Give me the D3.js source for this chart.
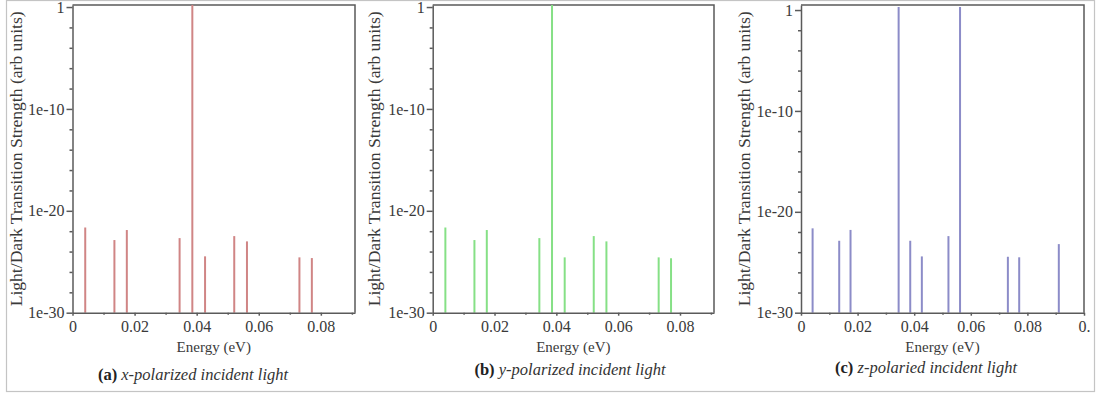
<!DOCTYPE html>
<html>
<head>
<meta charset="utf-8">
<script src="https://cdn.jsdelivr.net/npm/d3@7"></script>
<style>
  body { margin: 0; background: #fff; }
  svg { display: block; }
</style>
</head>
<body>
<svg id="svgId"></svg>
<script>
// energies (eV) of the transitions
var energyX = [0.0041, 0.0135, 0.0175, 0.0345, 0.0386, 0.0427, 0.0521, 0.0562, 0.0731, 0.0771];
var energyY = [0.0041, 0.0135, 0.0175, 0.0345, 0.0386, 0.0427, 0.0521, 0.0562, 0.0731, 0.0771];
var energyZ = [0.0041, 0.0135, 0.0175, 0.0345, 0.0386, 0.0427, 0.0521, 0.0562, 0.0731, 0.0771, 0.0911];

// strengths (arb units), the tall ones run off the top of the plot
var strengthX = [2.3e-22, 1.35e-23, 1.3e-22, 2.1e-23, 2, 3.4e-25, 3.3e-23, 1.0e-23, 2.7e-25, 2.3e-25];
var strengthY = [2.3e-22, 1.35e-23, 1.3e-22, 2.1e-23, 2, 2.7e-25, 3.3e-23, 1.0e-23, 2.7e-25, 2.2e-25];
var strengthZ = [2.3e-22, 1.35e-23, 1.6e-22, 2, 1.35e-23, 3.8e-25, 3.9e-23, 2, 3.5e-25, 3.1e-25, 6.3e-24];

// tick values and labels
var xTicksAB = [0, 0.02, 0.04, 0.06, 0.08];
var xTickLabelsAB = ["0", "0.02", "0.04", "0.06", "0.08"];
var xTicksC = [0, 0.02, 0.04, 0.06, 0.08, 0.1];
var xTickLabelsC = ["0", "0.02", "0.04", "0.06", "0.08", "0."];
var xMinor = [0.01, 0.03, 0.05, 0.07, 0.09];
var yTicks = [1, 1e-10, 1e-20, 1e-30];
var yTickLabels = ["1", "1e-10", "1e-20", "1e-30"];
var yMinor = [1e-2, 1e-4, 1e-6, 1e-8, 1e-12, 1e-14, 1e-16, 1e-18, 1e-22, 1e-24, 1e-26, 1e-28];

var yLabel = "Light/Dark Transition Strength (arb units)";
var xLabel = "Energy (eV)";
var captionTags = ["(a)", "(b)", "(c)"];
var captionTexts = [" x-polarized incident light", " y-polarized incident light", " z-polaried incident light"];

var svgWidth = 1099, svgHeight = 396;
var svg = d3.select("#svgId").attr("width", svgWidth).attr("height", svgHeight);

// outer frame of the figure
svg.append("rect")
    .attr("x", 6.5).attr("y", 0.5)
    .attr("width", 1088).attr("height", 391)
    .attr("fill", "none").attr("stroke", "#c4c4c4").attr("stroke-width", 1.2);

var panels = [
    { left: 72.5, right: 355, xMax: 0.091, yTopExp: 0.2, energy: energyX, strength: strengthX,
      color: "#d08585", xt: xTicksAB, xl: xTickLabelsAB, labelX: 16, capX: 193, capY: 380 },
    { left: 432.7, right: 714, xMax: 0.091, yTopExp: 0.2, energy: energyY, strength: strengthY,
      color: "#86e086", xt: xTicksAB, xl: xTickLabelsAB, labelX: 374, capX: 570, capY: 375 },
    { left: 801, right: 1084, xMax: 0.1, yTopExp: 0.5, energy: energyZ, strength: strengthZ,
      color: "#8c8cc8", xt: xTicksC, xl: xTickLabelsC, labelX: 744, capX: 926, capY: 373 }
];

var plotTop = 5, plotBottom = 312.7;
var axisColor = "#5a5a5a";
var fontFam = "'Liberation Serif', 'DejaVu Serif', serif";

panels.forEach(function (p, k) {
    var g = svg.append("g");

    var x = d3.scaleLinear().domain([0, p.xMax]).range([p.left, p.right]);
    var y = d3.scaleLog().domain([1e-30, Math.pow(10, p.yTopExp)]).range([plotBottom, plotTop]).clamp(true);

    // top and right frame lines
    g.append("path")
        .attr("d", "M" + p.left + "," + plotTop + "H" + p.right + "V" + plotBottom)
        .attr("fill", "none").attr("stroke", axisColor).attr("stroke-width", 1.5);

    //画竖线
    g.selectAll(".spike")
        .data(p.energy)
        .enter().append("line")
        .attr("class", "spike")
        .attr("x1", function (d) { return x(d); })
        .attr("x2", function (d) { return x(d); })
        .attr("y1", y(1e-30))
        .attr("y2", function (d, i) { return y(p.strength[i]); })
        .attr("stroke", p.color)
        .attr("stroke-width", 2);

    // minor ticks
    g.append("g")
        .attr("transform", "translate(0," + plotBottom + ")")
        .call(d3.axisBottom(x).tickValues(xMinor).tickSize(2).tickFormat(""))
        .call(function (a) { a.select(".domain").remove(); });
    g.append("g")
        .attr("transform", "translate(" + p.left + ",0)")
        .call(d3.axisLeft(y).tickValues(yMinor).tickSize(3).tickFormat(""))
        .call(function (a) { a.select(".domain").remove(); });

    // x axis
    var xa = g.append("g")
        .attr("transform", "translate(0," + plotBottom + ")")
        .call(d3.axisBottom(x).tickValues(p.xt).tickSize(3).tickSizeOuter(0).tickPadding(5)
            .tickFormat(function (d, i) { return p.xl[i]; }));

    // y axis
    var ya = g.append("g")
        .attr("transform", "translate(" + p.left + ",0)")
        .call(d3.axisLeft(y).tickValues(yTicks).tickSize(6).tickSizeOuter(0).tickPadding(2)
            .tickFormat(function (d, i) { return yTickLabels[i]; }));

    [xa, ya].forEach(function (a) {
        a.selectAll("text").attr("font-family", fontFam).attr("font-size", 16).attr("fill", "#3a3a3a");
    });
    g.selectAll(".domain, .tick line").attr("stroke", axisColor).attr("stroke-width", 1.5);

    // axis titles
    g.append("text")
        .attr("transform", "translate(" + p.labelX + "," + ((plotTop + plotBottom) / 2) + ") rotate(-90)")
        .attr("text-anchor", "middle")
        .attr("dy", "0.35em")
        .attr("font-family", fontFam).attr("font-size", 16).attr("fill", "#3a3a3a")
        .attr("textLength", 295).attr("lengthAdjust", "spacingAndGlyphs")
        .text(yLabel);

    g.append("text")
        .attr("x", (p.left + p.right) / 2)
        .attr("y", 352)
        .attr("text-anchor", "middle")
        .attr("font-family", fontFam).attr("font-size", 15).attr("fill", "#3a3a3a")
        .text(xLabel);

    // caption
    var cap = g.append("text")
        .attr("x", p.capX).attr("y", p.capY)
        .attr("text-anchor", "middle")
        .attr("font-family", fontFam).attr("font-size", 16.5).attr("fill", "#222");
    cap.append("tspan").attr("font-weight", "bold").text(captionTags[k]);
    cap.append("tspan").attr("font-style", "italic").attr("fill", "#333").text(captionTexts[k]);
});
</script>
</body>
</html>
